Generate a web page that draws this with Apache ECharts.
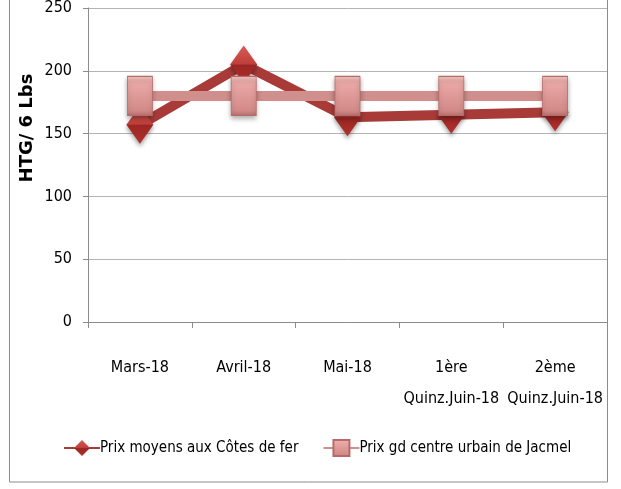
<!DOCTYPE html>
<html>
<head>
<meta charset="utf-8">
<script src="https://cdn.jsdelivr.net/npm/echarts@6/dist/echarts.min.js"></script>
<style>
  html, body { margin: 0; padding: 0; background: #fff; }
  #chart { width: 621px; height: 489px; }
</style>
</head>
<body>
<div id="chart"></div>
<script>
var categories = ['Mars-18', 'Avril-18', 'Mai-18', '1ère\nQuinz.Juin-18', '2ème\nQuinz.Juin-18']
var prixCotesDeFer = [157, 205, 163, 165, 167]
var prixJacmel = [180, 180, 180, 180, 180]
var yTicks = [0, 50, 100, 150, 200, 250]
var seriesNames = ['Prix moyens aux Côtes de fer', 'Prix gd centre urbain de Jacmel']

var font = "'DejaVu Sans Condensed', 'Liberation Sans Narrow', sans-serif"

var diamondFill = {
  type: 'linear', x: 0, y: 0, x2: 0, y2: 1,
  colorStops: [
    { offset: 0, color: '#d65a56' },
    { offset: 0.48, color: '#c13f3b' },
    { offset: 0.52, color: '#9a2724' },
    { offset: 1, color: '#b3302c' }
  ]
}
var squareFill = {
  type: 'linear', x: 0, y: 0, x2: 0, y2: 1,
  colorStops: [
    { offset: 0, color: '#f8cfcd' },
    { offset: 0.15, color: '#eaa9a7' },
    { offset: 0.85, color: '#d38b89' },
    { offset: 1, color: '#b87270' }
  ]
}

var chart = echarts.init(document.getElementById('chart'))
chart.setOption({
  animation: false,
  grid: { left: 88, right: 14, top: 3, bottom: 167 },
  legend: {
    left: 58,
    top: 434,
    width: 580,
    itemWidth: 36,
    itemHeight: 20,
    itemGap: 24,
    textStyle: { fontFamily: font, fontSize: 15, color: '#000', padding: [0, 0, 0, -5] },
    data: seriesNames
  },
  xAxis: {
    type: 'category',
    data: categories,
    boundaryGap: true,
    axisLine: { lineStyle: { color: '#8c8c8c' } },
    axisTick: { show: true, length: 6, lineStyle: { color: '#8c8c8c' } },
    axisLabel: {
      fontFamily: font, fontSize: 16, color: '#000',
      margin: 30, lineHeight: 31, interval: 0, align: 'center'
    }
  },
  yAxis: {
    type: 'value',
    min: yTicks[0],
    max: yTicks[yTicks.length - 1],
    interval: 50,
    axisLine: { show: true, lineStyle: { color: '#8c8c8c' } },
    axisTick: { show: true, length: 5, lineStyle: { color: '#8c8c8c' } },
    axisLabel: { fontFamily: font, fontSize: 16, color: '#000', margin: 16 },
    splitLine: { lineStyle: { color: '#b3b3b3' } }
  },
  graphic: [
    {
      type: 'rect',
      shape: { x: 9.5, y: -5, width: 598, height: 487 },
      style: { fill: 'none', stroke: '#8c8c8c', lineWidth: 1 },
      silent: true
    },
    {
      type: 'text',
      x: 27,
      y: 128,
      rotation: Math.PI / 2,
      style: {
        text: 'HTG/ 6 Lbs',
        fontFamily: "'DejaVu Sans', sans-serif",
        fontWeight: 'bold',
        fontSize: 18,
        fill: '#000',
        align: 'center',
        verticalAlign: 'middle'
      }
    }
  ],
  series: [
    {
      name: seriesNames[0],
      type: 'line',
      data: prixCotesDeFer,
      z: 2,
      symbol: 'diamond',
      symbolSize: [27, 38],
      lineStyle: { color: '#a83b38', width: 10 },
      itemStyle: {
        color: diamondFill,
        shadowBlur: 4, shadowColor: 'rgba(0,0,0,0.35)', shadowOffsetY: 3
      }
    },
    {
      name: seriesNames[1],
      type: 'line',
      data: prixJacmel,
      z: 3,
      symbol: 'rect',
      symbolSize: [25, 39],
      lineStyle: { color: '#d08e8c', width: 10 },
      itemStyle: {
        color: squareFill,
        borderColor: '#b76b69', borderWidth: 1,
        shadowBlur: 5, shadowColor: 'rgba(0,0,0,0.35)', shadowOffsetY: 3
      }
    }
  ]
})
</script>
</body>
</html>
